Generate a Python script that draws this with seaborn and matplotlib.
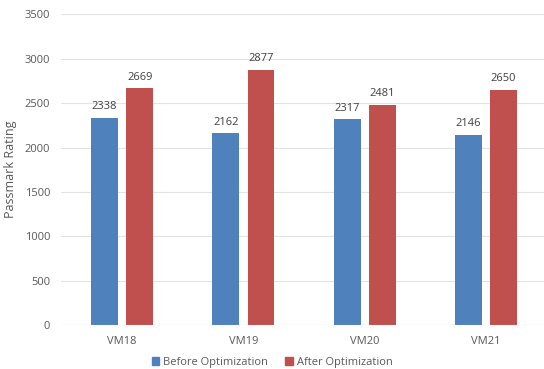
import matplotlib
matplotlib.use("Agg")
import matplotlib.pyplot as plt
import seaborn as sns
import pandas as pd

vms = ["VM18", "VM19", "VM20", "VM21"]
before = [2338, 2162, 2317, 2146]
after = [2669, 2877, 2481, 2650]
series_names = ["Before Optimization", "After Optimization"]
colors = ["#4F81BD", "#C0504D"]

df = pd.DataFrame({
    "VM": vms * 2,
    "Rating": before + after,
    "Series": [series_names[0]] * len(vms) + [series_names[1]] * len(vms),
})

sns.set_theme(style="white")
plt.rcParams["font.family"] = ["Open Sans", "DejaVu Sans"]
text_color = "#595959"

fig = plt.figure(figsize=(5.44, 3.69), dpi=100)
ax = fig.add_axes([0.113, 0.119, 0.892, 0.842])

sns.barplot(data=df, x="VM", y="Rating", hue="Series", palette=colors,
            saturation=1, width=0.58, gap=0.24, linewidth=0,
            ax=ax, legend=False, zorder=3)

ax.set_ylim(0, 3500)
ax.set_yticks(range(0, 3501, 500))
ax.set_xlim(-0.5, 3.5)
ax.grid(axis="y", color="#E3E3E3", linewidth=0.8, zorder=0)
for s in ax.spines.values():
    s.set_visible(False)
ax.axhline(0, color="#D9D9D9", linewidth=0.8, zorder=4)
ax.tick_params(axis="both", length=0, colors=text_color, labelsize=8)
ax.tick_params(axis="x", pad=8)
ax.tick_params(axis="y", pad=8)
ax.set_xlabel("")
ax.set_ylabel("Passmark Rating", color=text_color, fontsize=9, labelpad=6)

for cont in ax.containers:
    ax.bar_label(cont, labels=[f"{int(v)}" for v in cont.datavalues],
                 padding=4, fontsize=8, color="#404040")

handles = [plt.Rectangle((0, 0), 1, 1, color=c) for c in colors]
fig.legend(handles, series_names, loc="lower center", ncol=2, frameon=False,
           fontsize=8, labelcolor=text_color, handlelength=0.7, handleheight=0.7,
           handletextpad=0.3, columnspacing=1.6, bbox_to_anchor=(0.5, -0.025))

fig.savefig("out.png", dpi=100)
